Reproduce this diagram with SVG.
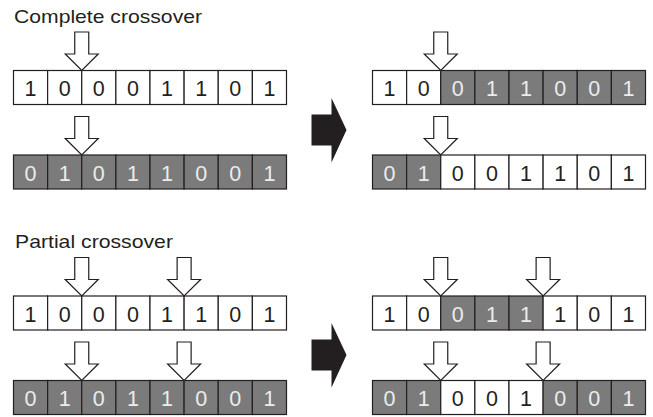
<svg xmlns="http://www.w3.org/2000/svg" xmlns:xlink="http://www.w3.org/1999/xlink" width="653" height="417" viewBox="0 0 653 417">
<style>
.title{font-family:"Liberation Sans",Arial,sans-serif;font-size:19px;fill:#231f20}
.w{fill:#ffffff;stroke:#231f20;stroke-width:1.2}
.g{fill:#7b7b7b;stroke:#231f20;stroke-width:1.2}
.d{font-family:"Liberation Sans",Arial,sans-serif;font-size:21.5px;text-anchor:middle}
.dw{fill:#231f20}
.dg{fill:#ececec}
.ptr{fill:#ffffff;stroke:#231f20;stroke-width:1.2;stroke-linejoin:miter}
.big{fill:#231f20}
</style>
<defs>
<path id="ptr" class="ptr" d="M-7,-38.5 H7 V-16.5 H16.5 L0,0 L-16.5,-16.5 H-7 Z"/>
<path id="bigarrow" class="big" d="M311.5,114.5 H331.5 V98 L346.5,130 L331.5,162.5 V145.5 H311.5 Z"/>
</defs>
<rect width="653" height="417" fill="#ffffff"/>
<text class="title" x="14" y="22.5" textLength="188" lengthAdjust="spacingAndGlyphs">Complete crossover</text>
<text class="title" x="15" y="248" textLength="158" lengthAdjust="spacingAndGlyphs">Partial crossover</text>

<g id="c-left-top">
<rect class="w" x="13.5" y="70.5" width="34.125" height="34"/><rect class="w" x="47.625" y="70.5" width="34.125" height="34"/><rect class="w" x="81.75" y="70.5" width="34.125" height="34"/><rect class="w" x="115.875" y="70.5" width="34.125" height="34"/><rect class="w" x="150" y="70.5" width="34.125" height="34"/><rect class="w" x="184.125" y="70.5" width="34.125" height="34"/><rect class="w" x="218.25" y="70.5" width="34.125" height="34"/><rect class="w" x="252.375" y="70.5" width="34.125" height="34"/>
<text class="d dw" x="30.56" y="96">1</text><text class="d dw" x="64.69" y="96">0</text><text class="d dw" x="98.81" y="96">0</text><text class="d dw" x="132.94" y="96">0</text><text class="d dw" x="167.06" y="96">1</text><text class="d dw" x="201.19" y="96">1</text><text class="d dw" x="235.31" y="96">0</text><text class="d dw" x="269.44" y="96">1</text>
</g>
<g id="c-left-bottom">
<rect class="g" x="13.5" y="155" width="34.125" height="34"/><rect class="g" x="47.625" y="155" width="34.125" height="34"/><rect class="g" x="81.75" y="155" width="34.125" height="34"/><rect class="g" x="115.875" y="155" width="34.125" height="34"/><rect class="g" x="150" y="155" width="34.125" height="34"/><rect class="g" x="184.125" y="155" width="34.125" height="34"/><rect class="g" x="218.25" y="155" width="34.125" height="34"/><rect class="g" x="252.375" y="155" width="34.125" height="34"/>
<text class="d dg" x="30.56" y="180.5">0</text><text class="d dg" x="64.69" y="180.5">1</text><text class="d dg" x="98.81" y="180.5">0</text><text class="d dg" x="132.94" y="180.5">1</text><text class="d dg" x="167.06" y="180.5">1</text><text class="d dg" x="201.19" y="180.5">0</text><text class="d dg" x="235.31" y="180.5">0</text><text class="d dg" x="269.44" y="180.5">1</text>
</g>
<g id="c-right-top">
<rect class="w" x="372.5" y="70.5" width="34.125" height="34"/><rect class="w" x="406.625" y="70.5" width="34.125" height="34"/><rect class="g" x="440.75" y="70.5" width="34.125" height="34"/><rect class="g" x="474.875" y="70.5" width="34.125" height="34"/><rect class="g" x="509" y="70.5" width="34.125" height="34"/><rect class="g" x="543.125" y="70.5" width="34.125" height="34"/><rect class="g" x="577.25" y="70.5" width="34.125" height="34"/><rect class="g" x="611.375" y="70.5" width="34.125" height="34"/>
<text class="d dw" x="389.56" y="96">1</text><text class="d dw" x="423.69" y="96">0</text><text class="d dg" x="457.81" y="96">0</text><text class="d dg" x="491.94" y="96">1</text><text class="d dg" x="526.06" y="96">1</text><text class="d dg" x="560.19" y="96">0</text><text class="d dg" x="594.31" y="96">0</text><text class="d dg" x="628.44" y="96">1</text>
</g>
<g id="c-right-bottom">
<rect class="g" x="372.5" y="155" width="34.125" height="34"/><rect class="g" x="406.625" y="155" width="34.125" height="34"/><rect class="w" x="440.75" y="155" width="34.125" height="34"/><rect class="w" x="474.875" y="155" width="34.125" height="34"/><rect class="w" x="509" y="155" width="34.125" height="34"/><rect class="w" x="543.125" y="155" width="34.125" height="34"/><rect class="w" x="577.25" y="155" width="34.125" height="34"/><rect class="w" x="611.375" y="155" width="34.125" height="34"/>
<text class="d dg" x="389.56" y="180.5">0</text><text class="d dg" x="423.69" y="180.5">1</text><text class="d dw" x="457.81" y="180.5">0</text><text class="d dw" x="491.94" y="180.5">0</text><text class="d dw" x="526.06" y="180.5">1</text><text class="d dw" x="560.19" y="180.5">1</text><text class="d dw" x="594.31" y="180.5">0</text><text class="d dw" x="628.44" y="180.5">1</text>
</g>

<g id="p-left-top">
<rect class="w" x="13.5" y="296" width="34.125" height="34"/><rect class="w" x="47.625" y="296" width="34.125" height="34"/><rect class="w" x="81.75" y="296" width="34.125" height="34"/><rect class="w" x="115.875" y="296" width="34.125" height="34"/><rect class="w" x="150" y="296" width="34.125" height="34"/><rect class="w" x="184.125" y="296" width="34.125" height="34"/><rect class="w" x="218.25" y="296" width="34.125" height="34"/><rect class="w" x="252.375" y="296" width="34.125" height="34"/>
<text class="d dw" x="30.56" y="321.5">1</text><text class="d dw" x="64.69" y="321.5">0</text><text class="d dw" x="98.81" y="321.5">0</text><text class="d dw" x="132.94" y="321.5">0</text><text class="d dw" x="167.06" y="321.5">1</text><text class="d dw" x="201.19" y="321.5">1</text><text class="d dw" x="235.31" y="321.5">0</text><text class="d dw" x="269.44" y="321.5">1</text>
</g>
<g id="p-left-bottom">
<rect class="g" x="13.5" y="380.5" width="34.125" height="34"/><rect class="g" x="47.625" y="380.5" width="34.125" height="34"/><rect class="g" x="81.75" y="380.5" width="34.125" height="34"/><rect class="g" x="115.875" y="380.5" width="34.125" height="34"/><rect class="g" x="150" y="380.5" width="34.125" height="34"/><rect class="g" x="184.125" y="380.5" width="34.125" height="34"/><rect class="g" x="218.25" y="380.5" width="34.125" height="34"/><rect class="g" x="252.375" y="380.5" width="34.125" height="34"/>
<text class="d dg" x="30.56" y="406">0</text><text class="d dg" x="64.69" y="406">1</text><text class="d dg" x="98.81" y="406">0</text><text class="d dg" x="132.94" y="406">1</text><text class="d dg" x="167.06" y="406">1</text><text class="d dg" x="201.19" y="406">0</text><text class="d dg" x="235.31" y="406">0</text><text class="d dg" x="269.44" y="406">1</text>
</g>
<g id="p-right-top">
<rect class="w" x="372.5" y="296" width="34.125" height="34"/><rect class="w" x="406.625" y="296" width="34.125" height="34"/><rect class="g" x="440.75" y="296" width="34.125" height="34"/><rect class="g" x="474.875" y="296" width="34.125" height="34"/><rect class="g" x="509" y="296" width="34.125" height="34"/><rect class="w" x="543.125" y="296" width="34.125" height="34"/><rect class="w" x="577.25" y="296" width="34.125" height="34"/><rect class="w" x="611.375" y="296" width="34.125" height="34"/>
<text class="d dw" x="389.56" y="321.5">1</text><text class="d dw" x="423.69" y="321.5">0</text><text class="d dg" x="457.81" y="321.5">0</text><text class="d dg" x="491.94" y="321.5">1</text><text class="d dg" x="526.06" y="321.5">1</text><text class="d dw" x="560.19" y="321.5">1</text><text class="d dw" x="594.31" y="321.5">0</text><text class="d dw" x="628.44" y="321.5">1</text>
</g>
<g id="p-right-bottom">
<rect class="g" x="372.5" y="380.5" width="34.125" height="34"/><rect class="g" x="406.625" y="380.5" width="34.125" height="34"/><rect class="w" x="440.75" y="380.5" width="34.125" height="34"/><rect class="w" x="474.875" y="380.5" width="34.125" height="34"/><rect class="w" x="509" y="380.5" width="34.125" height="34"/><rect class="g" x="543.125" y="380.5" width="34.125" height="34"/><rect class="g" x="577.25" y="380.5" width="34.125" height="34"/><rect class="g" x="611.375" y="380.5" width="34.125" height="34"/>
<text class="d dg" x="389.56" y="406">0</text><text class="d dg" x="423.69" y="406">1</text><text class="d dw" x="457.81" y="406">0</text><text class="d dw" x="491.94" y="406">0</text><text class="d dw" x="526.06" y="406">1</text><text class="d dg" x="560.19" y="406">0</text><text class="d dg" x="594.31" y="406">0</text><text class="d dg" x="628.44" y="406">1</text>
</g>

<g id="connectors">
<use xlink:href="#ptr" href="#ptr" x="81.75" y="70.5"/>
<use xlink:href="#ptr" href="#ptr" x="81.75" y="155"/>
<use xlink:href="#ptr" href="#ptr" x="440.75" y="70.5"/>
<use xlink:href="#ptr" href="#ptr" x="440.75" y="155"/>
<use xlink:href="#ptr" href="#ptr" x="81.75" y="296"/>
<use xlink:href="#ptr" href="#ptr" x="184.125" y="296"/>
<use xlink:href="#ptr" href="#ptr" x="81.75" y="380.5"/>
<use xlink:href="#ptr" href="#ptr" x="184.125" y="380.5"/>
<use xlink:href="#ptr" href="#ptr" x="440.75" y="296"/>
<use xlink:href="#ptr" href="#ptr" x="543.125" y="296"/>
<use xlink:href="#ptr" href="#ptr" x="440.75" y="380.5"/>
<use xlink:href="#ptr" href="#ptr" x="543.125" y="380.5"/>
<use xlink:href="#bigarrow" href="#bigarrow"/>
<use xlink:href="#bigarrow" href="#bigarrow" y="225"/>
</g>
</svg>
